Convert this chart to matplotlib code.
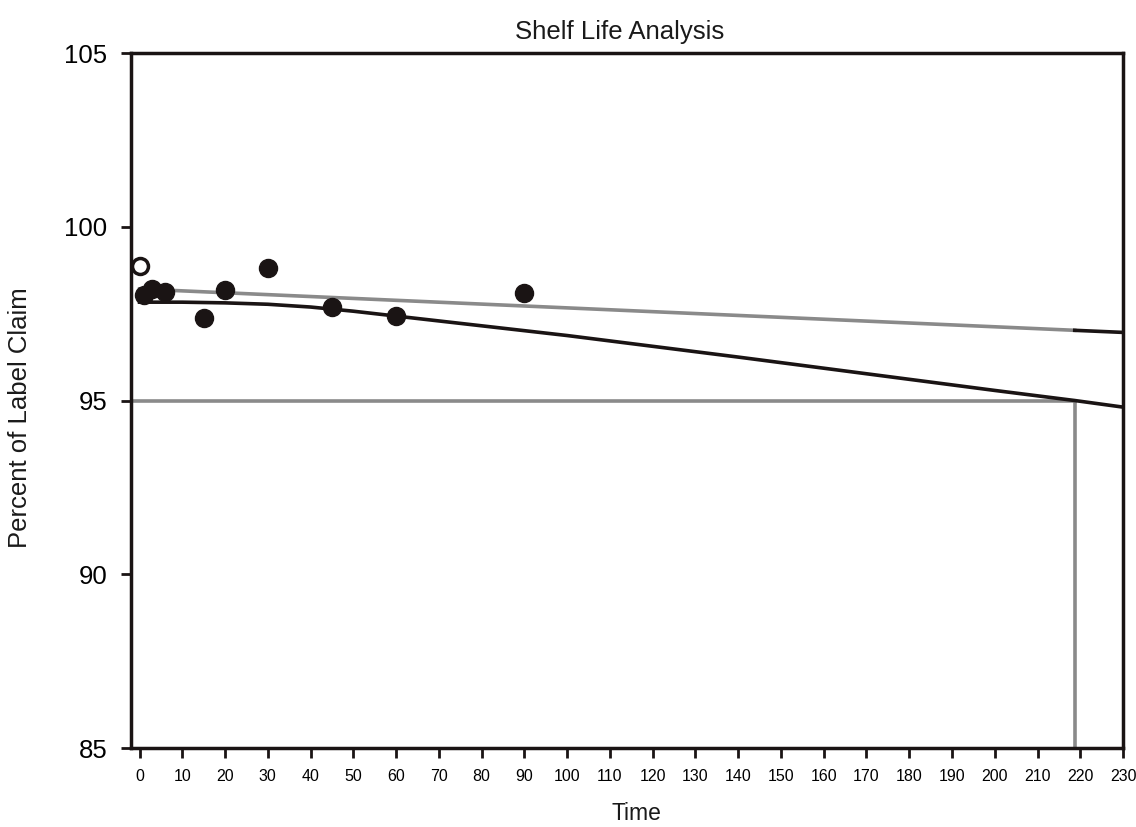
import matplotlib
matplotlib.use("Agg")
import matplotlib.pyplot as plt

plt.rcParams['font.family'] = ['Liberation Sans', 'DejaVu Sans']

# Observed data (filled circles)
obs_time = [1, 3, 6, 15, 20, 30, 45, 60, 90]
obs_pct = [98.05, 98.22, 98.13, 97.37, 98.18, 98.82, 97.68, 97.43, 98.09]

# Excluded / open point
open_time = [0]
open_pct = [98.87]

# Regression (mean) line
mean_time = [0, 218.7]
mean_pct = [98.21, 97.02]
mean_ext_time = [218.7, 230]
mean_ext_pct = [97.02, 96.96]

# Lower confidence bound
lcb_time = [0, 10, 20, 30, 40, 50, 60, 70, 80, 90, 100, 120, 140, 160, 180, 200, 218.7, 230]
lcb_pct = [97.83, 97.83, 97.81, 97.77, 97.69, 97.57, 97.43, 97.29, 97.15, 97.01,
           96.87, 96.56, 96.25, 95.93, 95.61, 95.29, 95.00, 94.81]

# Specification limit and shelf life
spec_limit = 95
shelf_life = 218.7

x_ticks = list(range(0, 231, 10))
y_ticks = [85, 90, 95, 100, 105]

DARK = '#1a1414'
GRAY = '#8a8a8a'

fig = plt.figure(figsize=(11.36, 8.27), dpi=100)
ax = fig.add_axes([0.1153, 0.0955, 0.9886 - 0.1153, 0.9359 - 0.0955])

ax.plot(lcb_time, lcb_pct, color=DARK, lw=2.6, zorder=3)
ax.plot(mean_time, mean_pct, color=GRAY, lw=2.6, zorder=3)
ax.plot(mean_ext_time, mean_ext_pct, color=DARK, lw=2.6, zorder=3)
ax.plot([-2, shelf_life], [spec_limit, spec_limit], color=GRAY, lw=2.6, zorder=2)
ax.plot([shelf_life, shelf_life], [85, spec_limit], color=GRAY, lw=2.6, zorder=2)

ax.plot(obs_time, obs_pct, 'o', color=DARK, ms=13, mec=DARK, zorder=4)
ax.plot(open_time, open_pct, 'o', mfc='white', mec=DARK, ms=11.5, mew=2.5, zorder=5)

ax.set_xlim(-2, 230)
ax.set_ylim(85, 105)
ax.set_xticks(x_ticks)
ax.set_yticks(y_ticks)
ax.tick_params(axis='x', labelsize=11.5, length=7, width=2, pad=8, color=DARK, direction='out')
ax.tick_params(axis='y', labelsize=18.5, length=7, width=2, pad=10, color=DARK, direction='out')
for s in ax.spines.values():
    s.set_linewidth(2.5)
    s.set_color(DARK)

fig.text(620 / 1136, 1 - 32 / 827, 'Shelf Life Analysis', ha='center', va='center',
         fontsize=18.5, color='#1a1a1a')
fig.text(636 / 1136, 1 - 814 / 827, 'Time', ha='center', va='center', fontsize=16.5, color='#1a1a1a')
fig.text(20 / 1136, 1 - 418 / 827, 'Percent of Label Claim', ha='center', va='center',
         rotation=90, fontsize=18.5, color='#1a1a1a')

fig.savefig('out.png', dpi=100)
